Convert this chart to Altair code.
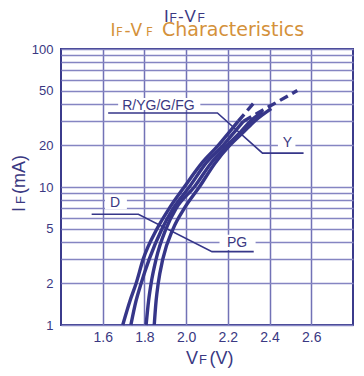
import altair as alt
import pandas as pd

# ---------------- data ----------------
cur_a_i = [1, 1.5, 2, 3, 5, 7, 10, 15, 20, 25, 30]
cur_a_v = [1.696, 1.731, 1.760, 1.794, 1.861, 1.919, 1.991, 2.077, 2.154, 2.207, 2.250]
cur_a_dash_i = [30, 40.6]
cur_a_dash_v = [2.250, 2.324]

cur_b_i = [1, 1.5, 2, 3, 5, 7, 10, 15, 20, 25, 30]
cur_b_v = [1.735, 1.760, 1.784, 1.823, 1.885, 1.938, 2.015, 2.097, 2.177, 2.231, 2.275]
cur_b_dash_i = [30, 50]
cur_b_dash_v = [2.275, 2.533]

cur_c_i = [1, 1.5, 2, 3, 5, 7, 10, 15, 20, 25, 30, 35]
cur_c_v = [1.808, 1.820, 1.832, 1.856, 1.904, 1.952, 2.039, 2.121, 2.196, 2.260, 2.308, 2.366]

cur_d_i = [1, 1.5, 2, 3, 5, 7, 10, 15, 20, 25, 30, 37]
cur_d_v = [1.847, 1.856, 1.866, 1.888, 1.938, 1.991, 2.063, 2.140, 2.209, 2.275, 2.328, 2.408]

x_ticks = [1.6, 1.8, 2.0, 2.2, 2.4, 2.6]
y_grid = [1, 2, 3, 4, 5, 6, 7, 8, 9, 10, 20, 30, 40, 50, 60, 70, 80, 90, 100]
y_labels = [1, 2, 5, 10, 20, 50, 100]

# annotation leaders (V, mA)
leader1_v = [1.626, 2.150, 2.366, 2.563]
leader1_i = [34.4, 34.4, 17.6, 17.6]
leader2_v = [1.547, 1.771, 2.124, 2.324]
leader2_i = [6.34, 6.34, 3.40, 3.40]

label_text = ["R/YG/G/FG", "Y", "D", "PG"]
label_v = [1.867, 2.485, 1.659, 2.244]
label_i = [38.6, 20.7, 7.62, 3.95]
box_v1 = [1.674, 2.440, 1.611, 2.160]
box_v2 = [2.068, 2.524, 1.716, 2.333]
box_i1 = [36.1, 18.6, 6.9, 3.5]
box_i2 = [44.2, 23.5, 8.6, 4.5]

NAVY = "#363689"
TXT = "#3a3882"
ORANGE = "#d4913a"
FONT = "Liberation Sans"
TFONT = "DejaVu Sans"

# ---------------- tables ----------------
def rows(name, vs, iss):
    return [{"curve": name, "o": k, "V": v, "I": i} for k, (v, i) in enumerate(zip(vs, iss))]

solid = pd.DataFrame(rows("a", cur_a_v, cur_a_i) + rows("b", cur_b_v, cur_b_i)
                     + rows("c", cur_c_v, cur_c_i) + rows("d", cur_d_v, cur_d_i))
dashed = pd.DataFrame(rows("a", cur_a_dash_v, cur_a_dash_i) + rows("b", cur_b_dash_v, cur_b_dash_i))
leaders = pd.DataFrame(rows("l1", leader1_v, leader1_i) + rows("l2", leader2_v, leader2_i))
labels = pd.DataFrame({"t": label_text, "V": label_v, "I": label_i})
boxes = pd.DataFrame({"V": box_v1, "V2": box_v2, "I": box_i1, "I2": box_i2})

xs = alt.Scale(domain=[1.4, 2.8], nice=False, zero=False)
ys = alt.Scale(type="log", domain=[1, 100], nice=False)

X = alt.X("V:Q", scale=xs, axis=alt.Axis(
    values=x_ticks, format=".1f", title=None, grid=True, ticks=False, tickSize=0,
    domain=False, labelPadding=5, labelFont=FONT, labelFontSize=14, labelColor=TXT,
    gridColor="#7272b6", gridWidth=1.5))
Y = alt.Y("I:Q", scale=ys, axis=alt.Axis(
    values=y_grid, format="~g", title=None, grid=True, ticks=False, tickSize=0,
    domain=False, labelPadding=8, labelFont=FONT, labelFontSize=13, labelColor=TXT,
    labelExpr="indexof(" + str(y_labels) + ", datum.value) >= 0 ? datum.label : ''",
    gridColor="#8585c2", gridWidth=1.5))

base_lines = alt.Chart(solid).mark_line(color=NAVY, strokeWidth=3.4, interpolate="monotone").encode(
    x=X, y=Y, detail="curve:N", order="o:Q")
dash_lines = alt.Chart(dashed).mark_line(color=NAVY, strokeWidth=3.4, strokeDash=[9, 5]).encode(
    x=X, y=Y, detail="curve:N", order="o:Q")
lead = alt.Chart(leaders).mark_line(color=NAVY, strokeWidth=1.6).encode(
    x=X, y=Y, detail="curve:N", order="o:Q")
box = alt.Chart(boxes).mark_rect(color="white").encode(x=X, x2="V2", y=Y, y2="I2")
lab = alt.Chart(labels).mark_text(font=FONT, fontSize=14, color=TXT).encode(x=X, y=Y, text="t:N")

one = pd.DataFrame({"k": [0]})

def piece(t, px, py, fs, col, ang=0, font=FONT):
    # px, py: page pixel position; plot origin is at page (61, 49)
    return alt.Chart(one).mark_text(text=t, font=font, fontSize=fs, color=col, align="left",
                                    baseline="alphabetic", angle=ang).encode(
        x=alt.value(px - 61), y=alt.value(py - 49))

texts = [
    # title line 1
    piece("I", 164, 22, 17, TXT), piece("F", 169.5, 22, 12, TXT),
    piece("-", 178, 22, 17, TXT), piece("V", 184.5, 22, 17, TXT),
    piece("F", 197.5, 22, 12, TXT),
    # title line 2
    piece("I", 110.5, 35.7, 17, ORANGE, font=TFONT), piece("F", 116, 35.7, 12, ORANGE, font=TFONT),
    piece("-", 124.5, 35.7, 17, ORANGE, font=TFONT), piece("V", 130.5, 35.7, 17, ORANGE, font=TFONT),
    piece("F", 146, 35.7, 12, ORANGE, font=TFONT),
    piece("Characteristics", 162, 35.7, 19, ORANGE, font=TFONT),
    # x title
    piece("V", 186, 364, 18, TXT), piece("F", 199, 364, 13, TXT), piece("(V)", 209.5, 364, 18, TXT),
    # y title
    piece("I", 24.5, 212, 18, TXT, 270), piece("F", 24.5, 204, 13, TXT, 270),
    piece("(mA)", 24.5, 194, 18, TXT, 270),
]

chart = alt.layer(base_lines, dash_lines, lead, box, lab, *texts).properties(
    width=292, height=276,
    autosize=alt.AutoSizeParams(type="none"),
    padding={"left": 53, "top": 41, "right": 3, "bottom": 43},
    background="white",
).configure_view(stroke="#3b3b8c", strokeWidth=2)

chart.save("out.html", embed_options={"renderer": "svg", "actions": False})
